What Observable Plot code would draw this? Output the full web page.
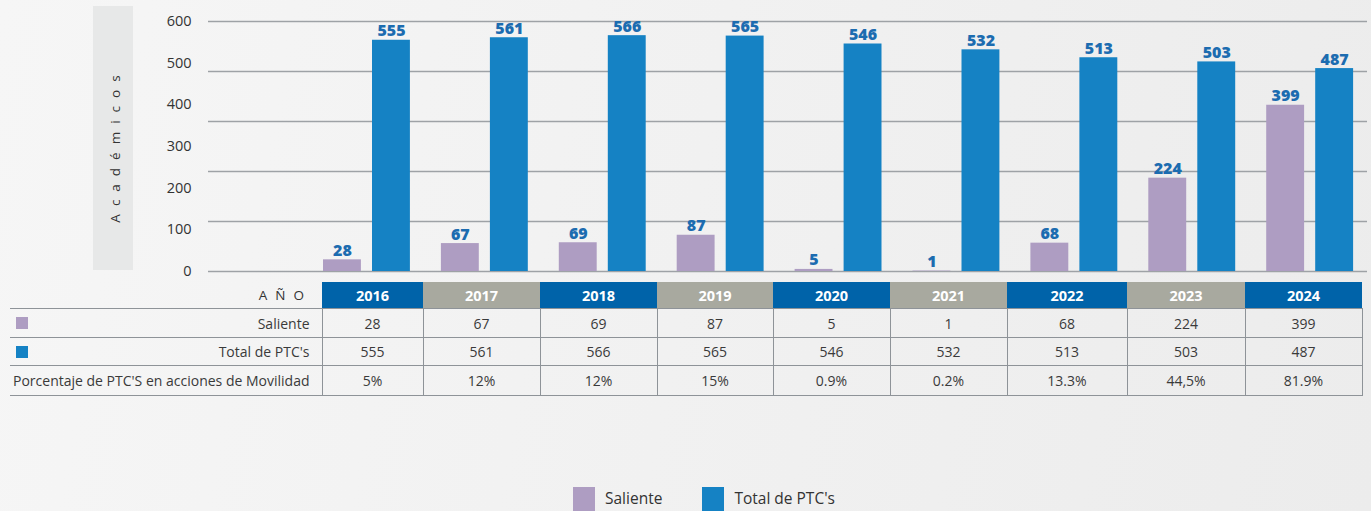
<!DOCTYPE html>
<html>
<head>
<meta charset="utf-8">
<script src="https://cdn.jsdelivr.net/npm/d3@7"></script>
<script src="https://cdn.jsdelivr.net/npm/@observablehq/plot@0.6"></script>
<style>
  html, body { margin: 0; padding: 0; }
  body { width: 1371px; height: 511px; overflow: hidden; background: linear-gradient(100deg, #f6f6f6 0%, #f1f1f1 50%, #ececec 100%); font-family: "Open Sans", sans-serif; }
  #wrap { position: relative; width: 1371px; height: 511px; }
  #ypanel { position: absolute; left: 93px; top: 6px; width: 40px; height: 264px; background: #e7e8e8; }
  #ylabel { position: absolute; left: 115px; top: 145px; transform: translate(-50%, -50%) rotate(-90deg); white-space: nowrap; font-size: 13.5px; letter-spacing: 8px; color: #333; }
  #chart { position: absolute; left: 0; top: 0; }
  table { position: absolute; left: 10px; top: 282px; border-collapse: collapse; table-layout: fixed; font-size: 14px; color: #3a3a3a; }
  td { border-top: 1.5px solid #8e9398; border-bottom: 1.5px solid #8e9398; text-align: center; padding: 0; }
  td.yr { border-left: 1.5px solid #8e9398; border-right: 1.5px solid #8e9398; }
  th { color: #fff; font-weight: 700; font-size: 14.5px; height: 26px; padding: 0; border: none; }
  th.lab { background: transparent; color: #333; font-weight: 400; text-align: right; padding-right: 10px; letter-spacing: 8px; font-size: 13.5px; }
  td.lab { text-align: right; padding-right: 12px; position: relative; }
  .sw { position: absolute; left: 6px; top: 50%; width: 12px; height: 12px; transform: translateY(-50%); }
  #legend { position: absolute; top: 487px; left: 573px; display: flex; align-items: flex-start; font-size: 15.5px; color: #333; }
  #legend .item { display: flex; align-items: flex-start; }
  #legend .box { width: 22px; height: 24px; }
  #legend .txt { margin-left: 10px; margin-top: 1px; line-height: 21px; }
</style>
</head>
<body>
<div id="wrap">
  <div id="ypanel"></div>
  <div id="ylabel">Académicos</div>
  <div id="chart"></div>
</div>
<script>
const years = ["2016", "2017", "2018", "2019", "2020", "2021", "2022", "2023", "2024"];
const saliente = [28, 67, 69, 87, 5, 1, 68, 224, 399];
const totalPTC = [555, 561, 566, 565, 546, 532, 513, 503, 487];
const porcentaje = ["5%", "12%", "12%", "15%", "0.9%", "0.2%", "13.3%", "44,5%", "81.9%"];
const yTicks = [0, 100, 200, 300, 400, 500, 600];
// the reference draws its 6 horizontal rules evenly, independent of the tick labels
const gridValues = [0, 120, 240, 360, 480, 600];
const seriesNames = ["Saliente", "Total de PTC's"];
const rowLabels = ["Saliente", "Total de PTC's", "Porcentaje de PTC'S en acciones de Movilidad"];
const colors = ["#ae9dc2", "#1582c4"];
const headerColors = ["#0063a9", "#a8a99f"];

const salData = years.map((y, i) => ({year: y, value: saliente[i]}));
const totData = years.map((y, i) => ({year: y, value: totalPTC[i]}));

const labelStyle = {fill: "#1c6cb0", fontSize: 16, fontWeight: 800, lineAnchor: "bottom", dy: -4};

const chart = Plot.plot({
  width: 1371,
  height: 280,
  marginLeft: 208,
  marginRight: 4,
  marginTop: 21,
  marginBottom: 9,
  style: {background: "transparent", fontFamily: "Open Sans, sans-serif", overflow: "visible"},
  x: {domain: years, range: [307.5, 1368.6], padding: 0, round: false, axis: null},
  y: {domain: [0, 600], label: null},
  marks: [
    Plot.gridY(gridValues, {stroke: "#9ea2a6", strokeOpacity: 1, strokeWidth: 1.5}),
    Plot.axisY(yTicks, {tickSize: 0, tickPadding: 17, fontSize: 14.5, fill: "#333", label: null, letterSpacing: 0.8}),
    Plot.barY(salData, {x: "year", y: "value", fill: colors[0], insetLeft: 15.5, insetRight: 64.5}),
    Plot.barY(totData, {x: "year", y: "value", fill: colors[1], insetLeft: 64.5, insetRight: 15.5}),
    Plot.text(salData, {x: "year", y: "value", text: d => String(d.value), dx: -24.5, ...labelStyle}),
    Plot.text(totData, {x: "year", y: "value", text: d => String(d.value), dx: 24.5, ...labelStyle})
  ]
});
document.getElementById("chart").appendChild(chart);

// table
const colWidths = [312, 101, 117, 117, 116, 117, 117, 120, 118, 117];
const table = document.createElement("table");
const cg = document.createElement("colgroup");
colWidths.forEach(w => { const c = document.createElement("col"); c.style.width = w + "px"; cg.appendChild(c); });
table.appendChild(cg);
table.style.width = colWidths.reduce((a, b) => a + b, 0) + "px";

const hr = document.createElement("tr");
const h0 = document.createElement("th"); h0.className = "lab"; h0.textContent = "AÑO"; hr.appendChild(h0);
years.forEach((y, i) => {
  const th = document.createElement("th");
  th.textContent = y;
  th.style.background = headerColors[i % 2];
  hr.appendChild(th);
});
table.appendChild(hr);

const rows = [saliente.map(String), totalPTC.map(String), porcentaje];
const rowHeights = [29, 28, 30];
rows.forEach((vals, r) => {
  const tr = document.createElement("tr");
  tr.style.height = rowHeights[r] + "px";
  const td0 = document.createElement("td");
  td0.className = "lab";
  if (r < 2) {
    const sw = document.createElement("span");
    sw.className = "sw";
    sw.style.background = colors[r];
    td0.appendChild(sw);
  }
  td0.appendChild(document.createTextNode(rowLabels[r]));
  tr.appendChild(td0);
  vals.forEach(v => {
    const td = document.createElement("td");
    td.className = "yr";
    td.textContent = v;
    tr.appendChild(td);
  });
  table.appendChild(tr);
});
document.getElementById("wrap").appendChild(table);

// legend
const legend = document.createElement("div");
legend.id = "legend";
seriesNames.forEach((name, i) => {
  const item = document.createElement("div");
  item.className = "item";
  if (i > 0) item.style.marginLeft = "40px";
  const box = document.createElement("div");
  box.className = "box";
  box.style.background = colors[i];
  const txt = document.createElement("div");
  txt.className = "txt";
  txt.textContent = name;
  item.appendChild(box);
  item.appendChild(txt);
  legend.appendChild(item);
});
document.getElementById("wrap").appendChild(legend);
</script>
</body>
</html>
